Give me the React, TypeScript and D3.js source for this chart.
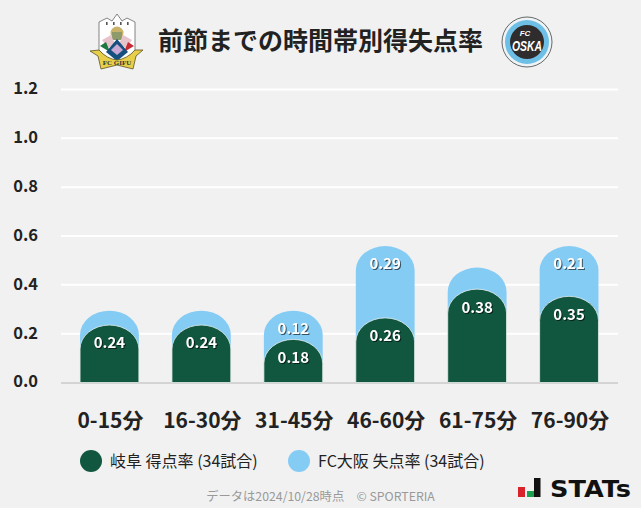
import { useEffect, useRef } from "react";
import * as d3 from "d3";

// goal rates, 34 matches
const categories = ["0-15分", "16-30分", "31-45分", "46-60分", "61-75分", "76-90分"];
const gifuFor = [0.2353, 0.2353, 0.1765, 0.2647, 0.3824, 0.3529];
const osakaAgainst = [0.0588, 0.0588, 0.1176, 0.2941, 0.0882, 0.2059];
const yTicks = [0, 0.2, 0.4, 0.6, 0.8, 1.0, 1.2];
const seriesNames = ["岐阜 得点率 (34試合)", "FC大阪 失点率 (34試合)"];

const GREEN = "#11573f";
const BLUE = "#85ccf5";
const FONT = "'Noto Sans CJK JP', 'Noto Sans', sans-serif";

// rounded-top column between two values
function columnPath(x0: number, x1: number, yTop: number, yBase: number, ry: number) {
  const rx = (x1 - x0) / 2;
  return `M${x0},${yBase}L${x0},${yTop + ry}A${rx},${ry} 0 0 1 ${x1},${yTop + ry}L${x1},${yBase}Z`;
}

function GifuLogo() {
  return (
    <g transform="translate(117,42)">
      <path d="M-18,-20 L-10,-24 L-5,-21 L0,-28 L5,-21 L10,-24 L18,-20 L18,8 Q10,18 0,21 Q-10,18 -18,8 Z" fill="#fff" stroke="#666" strokeWidth={0.8} />
      {[-11, -4, 3, 10].map(v => <rect key={v} x={v} y={-20} width={1.6} height={3} fill="#555" />)}
      <circle cx={0} cy={-9} r={6.5} fill="#c9b26a" />
      <rect x={-5} y={-10} width={10} height={8} fill="#8f9a6a" />
      <path d="M-15,-2 L-6,-7 L-2,2 L-9,6 Z" fill="#e7c3cb" />
      <path d="M6,-7 L15,-2 L9,6 L2,2 Z" fill="#e7c3cb" />
      <path d="M-17,4 L-11,0 L-7,10 Z" fill="#1c7a40" />
      <path d="M17,4 L11,0 L7,10 Z" fill="#c62a34" />
      <path d="M-11,10 L0,-3 L11,10 L0,19 Z" fill="#16507f" />
      <path d="M-6,8 L0,2 L6,8 L0,13 Z" fill="#c9a9d3" />
      <path d="M-27,9 L-18,8 Q-10,17 0,18 Q10,17 18,8 L26,8 L19,14 L16,27 L0,23 L-16,27 L-19,14 Z" fill="#e8cf4a" stroke="#5c5222" strokeWidth={0.8} />
      <text x={0} y={23} fontSize={7} fontWeight={700} textAnchor="middle" fill="#333" fontFamily="'Liberation Serif', serif">FC GIFU</text>
    </g>
  );
}

function OsakaLogo() {
  return (
    <g transform="translate(527,42)">
      <circle r={25} fill="#eef3f5" stroke="#444" strokeWidth={0.8} />
      <circle r={22} fill="#6ebfe6" />
      <circle r={17} fill="#2f2c2d" />
      <g fill="#fff" fontFamily="'Liberation Sans', sans-serif" fontWeight={700} fontStyle="italic" textAnchor="middle">
        <text x={0} y={9} fontSize={15} textLength={30} lengthAdjust="spacingAndGlyphs">OSKA</text>
        <text x={-2} y={-6} fontSize={8}>FC</text>
      </g>
    </g>
  );
}

export default function App() {
  const ref = useRef<SVGGElement>(null);

  useEffect(() => {
    const x = d3.scaleBand().domain(categories).range([63.5, 615]).paddingInner(0.36).paddingOuter(0.18);
    const y = d3.scaleLinear().domain([0, 1.2]).range([382.5, 89.5]);
    const g = d3.select(ref.current);
    g.selectAll("*").remove();

    // grid
    g.selectAll("line.grid").data(yTicks.slice(1)).join("line")
      .attr("x1", 61).attr("x2", 618)
      .attr("y1", d => y(d)).attr("y2", d => y(d))
      .attr("stroke", "#fff").attr("stroke-width", 2);
    g.append("line").attr("x1", 61).attr("x2", 618).attr("y1", 383).attr("y2", 383)
      .attr("stroke", "#d4d4d4").attr("stroke-width", 2);

    // y labels
    g.selectAll("text.ytick").data(yTicks).join("text")
      .attr("x", 38).attr("y", d => y(d) - 1).attr("dy", "0.36em")
      .attr("text-anchor", "end")
      .attr("font-size", 16.5).attr("font-weight", 700).attr("fill", "#222")
      .text(d => d3.format(".1f")(d));

    // x labels
    g.selectAll("text.xtick").data(categories).join("text")
      .attr("x", d => x(d)! + x.bandwidth() / 2 + 1).attr("y", 420)
      .attr("dy", "0.36em").attr("text-anchor", "middle")
      .attr("font-size", 21).attr("font-weight", 700).attr("fill", "#222")
      .text(d => d);

    const ry = 24;
    // blue sits on top of the green stack
    g.selectAll("path.osaka").data(categories).join("path")
      .attr("d", (c, i) => columnPath(x(c)!, x(c)! + x.bandwidth(), y(gifuFor[i] + osakaAgainst[i]), y(gifuFor[i]) + ry, ry))
      .attr("fill", BLUE);
    g.selectAll("path.gifu").data(categories).join("path")
      .attr("d", (c, i) => columnPath(x(c)!, x(c)! + x.bandwidth(), y(gifuFor[i]), y(0), ry))
      .attr("fill", GREEN).attr("stroke", "#e4eeec").attr("stroke-width", 0.8);

    // value labels, small blue segments have none
    const label = (sel: any) => sel
      .attr("x", (c: string) => x(c)! + x.bandwidth() / 2)
      .attr("text-anchor", "middle").attr("dy", "0.36em")
      .attr("font-size", 15).attr("font-weight", 700).attr("fill", "#fff")
      .style("filter", "drop-shadow(1px 1px 0.5px rgba(0,0,0,0.6))");

    g.selectAll("text.gifuv").data(categories).join("text").call(label)
      .attr("y", (c, i) => y(gifuFor[i]) + 18)
      .text((c, i) => d3.format(".2f")(gifuFor[i]));
    const shown = categories.filter((c, i) => osakaAgainst[i] >= 0.1);
    g.selectAll("text.osakav").data(shown).join("text").call(label)
      .attr("y", c => {
        const i = categories.indexOf(c);
        return y(gifuFor[i] + osakaAgainst[i]) + 18;
      })
      .text(c => d3.format(".2f")(osakaAgainst[categories.indexOf(c)]));
  }, []);

  return (
    <svg width={641} height={508} style={{ position: "absolute", left: 0, top: 0, background: "#f1f1f1" }} fontFamily={FONT}>
      <GifuLogo />
      <OsakaLogo />
      <text x={320.5} y={41} dy="0.36em" textAnchor="middle" fontSize={25} fontWeight={700} fill="#222">前節までの時間帯別得失点率</text>
      <g ref={ref} />
      <circle cx={91} cy={461} r={11} fill={GREEN} />
      <text x={110} y={461} dy="0.36em" fontSize={16} fill="#222">{seriesNames[0]}</text>
      <circle cx={299} cy={461} r={11} fill={BLUE} />
      <text x={318} y={461} dy="0.36em" fontSize={16} fill="#222">{seriesNames[1]}</text>
      <text x={320.5} y={497} dy="0.36em" textAnchor="middle" fontSize={12.3} fill="#999">データは2024/10/28時点　© SPORTERIA</text>
      <rect x={518} y={487} width={7} height={10} fill="#d8232a" />
      <rect x={527} y={491} width={7} height={6} fill="#19a050" />
      <rect x={534} y={478} width={6.5} height={19} fill="#111" />
      <text x={550} y={497} fontSize={23} fontWeight={700} fill="#111" fontFamily="'DejaVu Sans', sans-serif" textLength={81} lengthAdjust="spacingAndGlyphs">STATs</text>
    </svg>
  );
}
